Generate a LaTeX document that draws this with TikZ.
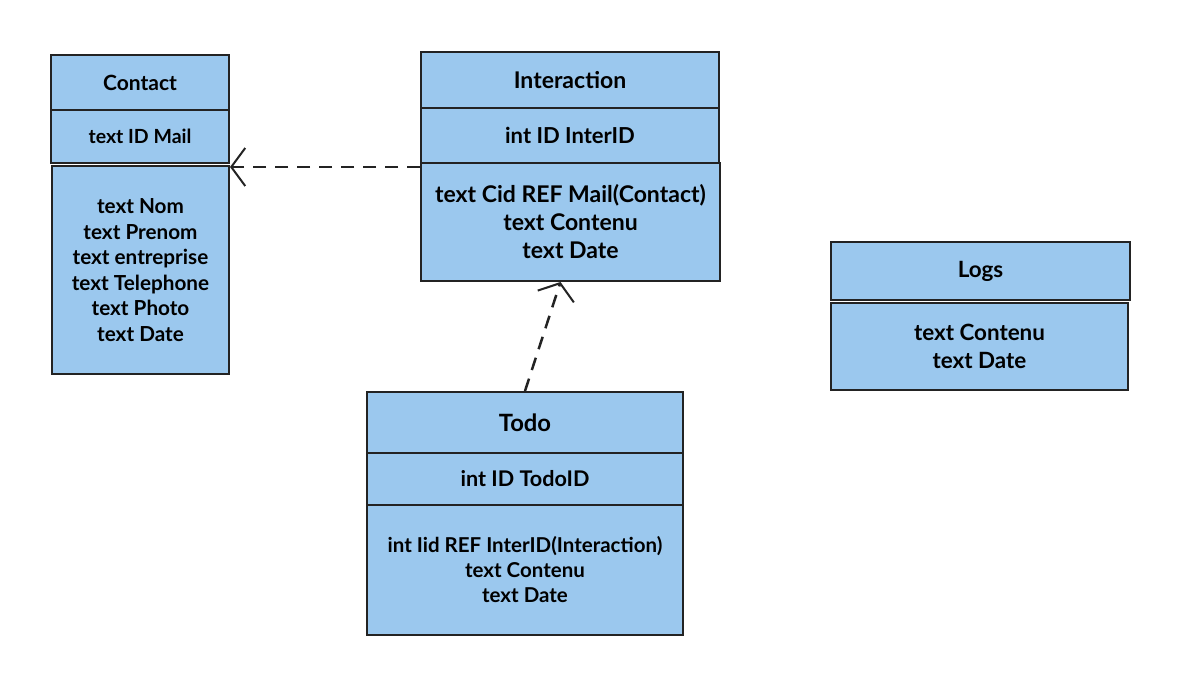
\documentclass[tikz,border=0pt]{standalone}
\usepackage{fontspec}
\setmainfont{Lato}
\usepackage{xcolor}
\usetikzlibrary{arrows.meta, positioning}
\definecolor{tablefill}{RGB}{155, 200, 238}
\definecolor{tableline}{RGB}{35, 35, 35}

\begin{document}
\begin{tikzpicture}[
    x=1pt, y=-1pt,
    cell/.style={
        rectangle, draw=tableline, fill=tablefill, line width=2pt,
        inner sep=0pt, align=center, font=\bfseries, text=black
    },
    dep/.style={
        draw=tableline, line width=2.5pt, dash pattern=on 13pt off 9pt,
        -{Straight Barb[length=14pt, width=38pt, line width=2pt]}
    }
]

% Page
\useasboundingbox[fill=white] (0, 0) rectangle (1203, 690);

% Contact table
\node[cell, minimum width=178, minimum height=55, font=\fontsize{21}{25}\selectfont\bfseries]
    (contactHead) at (140, 82.5) {Contact};
\node[cell, minimum width=178, minimum height=53, font=\fontsize{19.5}{23}\selectfont\bfseries]
    (contactKey) at (140, 136.5) {text ID Mail};
\node[cell, minimum width=177, minimum height=208, font=\fontsize{20.7}{25.5}\selectfont\bfseries]
    (contactBody) at (140.5, 270) {text Nom\\text Prenom\\text entreprise\\text Telephone\\text Photo\\text Date};

% Interaction table
\node[cell, minimum width=298, minimum height=56, font=\fontsize{23}{27}\selectfont\bfseries]
    (interHead) at (570, 80) {Interaction};
\node[cell, minimum width=298, minimum height=55, font=\fontsize{22}{26}\selectfont\bfseries]
    (interKey) at (570, 135.5) {int ID InterID};
\node[cell, minimum width=299, minimum height=118, font=\fontsize{23}{28}\selectfont\bfseries]
    (interBody) at (570.5, 222) {text Cid REF Mail(Contact)\\text Contenu\\text Date};

% Todo table
\node[cell, minimum width=316, minimum height=61, font=\fontsize{23.8}{28}\selectfont\bfseries]
    (todoHead) at (525, 422.5) {Todo};
\node[cell, minimum width=316, minimum height=52, font=\fontsize{21.6}{25}\selectfont\bfseries]
    (todoKey) at (525, 479) {int ID TodoID};
\node[cell, minimum width=316, minimum height=130, font=\fontsize{20.5}{25}\selectfont\bfseries]
    (todoBody) at (525, 570) {int Iid REF InterID(Interaction)\\text Contenu\\text Date};

% Logs table
\node[cell, minimum width=299, minimum height=58, font=\fontsize{22.4}{26}\selectfont\bfseries]
    (logsHead) at (980.5, 271) {Logs};
\node[cell, minimum width=297, minimum height=87, font=\fontsize{22.4}{28}\selectfont\bfseries]
    (logsBody) at (979.5, 346.5) {text Contenu\\text Date};

% References
\draw[dep] ([yshift=-3pt]interKey.south west) -- ([yshift=-3pt]contactKey.south east);
\draw[dep] (todoHead.north) -- ([xshift=-10pt]interBody.south);

\end{tikzpicture}
\end{document}
